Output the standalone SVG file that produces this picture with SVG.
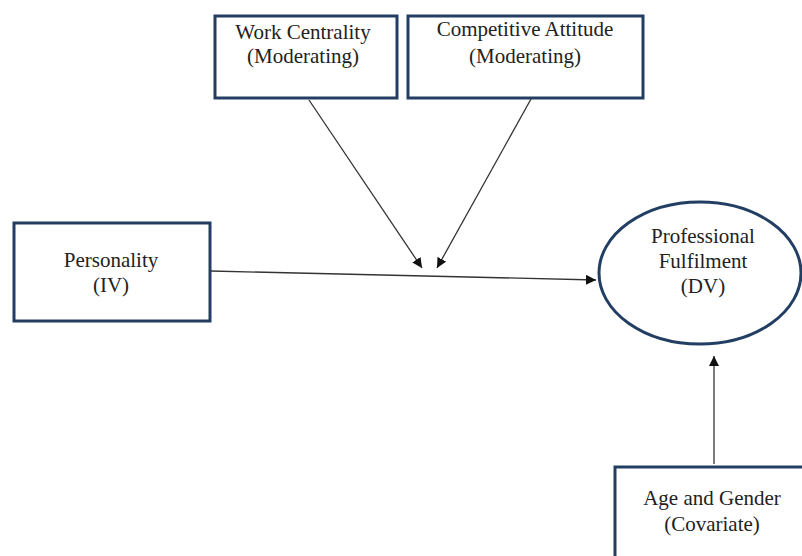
<svg xmlns="http://www.w3.org/2000/svg" width="802" height="556" viewBox="0 0 802 556">
<defs>
<style>
.box{fill:#fff;stroke:#223e62;stroke-width:3}
.t{font-family:"Liberation Serif","Times New Roman",serif;font-size:21px;fill:#222;text-anchor:middle}
.c{stroke:#333;stroke-width:1.3;fill:none;marker-end:url(#ah)}
</style>
<marker id="ah" viewBox="0 0 10 10" refX="10" refY="5" markerWidth="10" markerHeight="10" markerUnits="userSpaceOnUse" orient="auto">
<path d="M0,0 L10,5 L0,10 z" fill="#111"/>
</marker>
</defs>
<rect width="802" height="556" fill="#fff"/>
<g id="work-centrality">
<rect class="box" x="215" y="16" width="182" height="82"/>
<text class="t" x="303" y="39">Work Centrality</text>
<text class="t" x="303" y="63">(Moderating)</text>
</g>
<g id="competitive-attitude">
<rect class="box" x="408" y="16" width="235" height="82"/>
<text class="t" x="525" y="36">Competitive Attitude</text>
<text class="t" x="525" y="63">(Moderating)</text>
</g>
<g id="personality">
<rect class="box" x="14" y="223" width="196" height="98"/>
<text class="t" x="111" y="267">Personality</text>
<text class="t" x="111" y="292">(IV)</text>
</g>
<g id="professional-fulfilment">
<ellipse cx="700" cy="273" rx="101" ry="71" fill="#fff" stroke="#223e62" stroke-width="3"/>
<text class="t" x="703" y="243">Professional</text>
<text class="t" x="703" y="268">Fulfilment</text>
<text class="t" x="703" y="293">(DV)</text>
</g>
<g id="age-gender">
<rect class="box" x="615" y="467" width="200" height="100"/>
<text class="t" x="712" y="505">Age and Gender</text>
<text class="t" x="712" y="531">(Covariate)</text>
</g>
<g id="connectors">
<line class="c" x1="211" y1="271" x2="596" y2="280"/>
<line class="c" x1="309" y1="100" x2="422" y2="268"/>
<line class="c" x1="531" y1="99" x2="437" y2="268"/>
<line class="c" x1="714" y1="464" x2="714" y2="356"/>
</g>
</svg>
